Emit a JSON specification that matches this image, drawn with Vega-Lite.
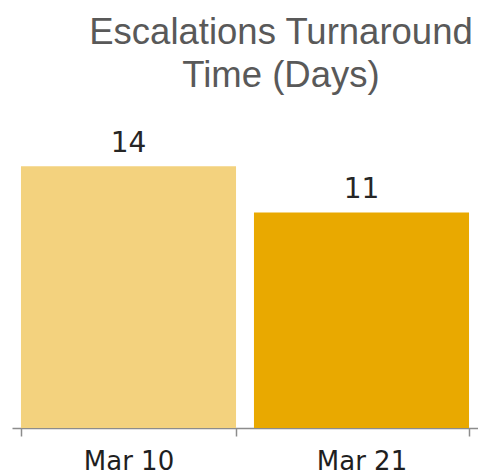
{
  "$schema": "https://vega.github.io/schema/vega-lite/v6.json",
  "width": 466,
  "height": 308,
  "autosize": {"type": "none"},
  "padding": {"left": 12, "top": 120, "right": 0, "bottom": 47},
  "background": "white",
  "title": {
    "text": ["Escalations Turnaround", "Time (Days)"],
    "font": "Liberation Sans",
    "fontSize": 36.5,
    "fontWeight": "normal",
    "color": "#595959",
    "lineHeight": 43,
    "anchor": "middle",
    "dx": 36,
    "offset": 26
  },
  "data": {
    "values": [
      {"date": "Mar 10", "days": 13.6, "shade": "light"},
      {"date": "Mar 21", "days": 11.2, "shade": "dark"}
    ]
  },
  "config": {"view": {"stroke": null}},
  "encoding": {
    "x": {
      "field": "date",
      "type": "nominal",
      "sort": null,
      "scale": {"paddingInner": 0.077, "paddingOuter": 0.0385},
      "axis": {
        "title": null,
        "labelAngle": 0,
        "labelFont": "DejaVu Sans",
        "labelFontSize": 26,
        "labelColor": "#1f1f1f",
        "labelPadding": 12,
        "domainColor": "#8c8c8c",
        "domainWidth": 1.5,
        "tickColor": "#8c8c8c",
        "tickWidth": 1.5,
        "tickSize": 8,
        "tickBand": "extent",
        "grid": false
      }
    },
    "y": {
      "field": "days",
      "type": "quantitative",
      "scale": {"domain": [0, 16], "nice": false},
      "axis": null
    }
  },
  "layer": [
    {
      "mark": {"type": "bar"},
      "encoding": {
        "color": {
          "field": "shade",
          "type": "nominal",
          "scale": {"domain": ["light", "dark"], "range": ["#F3D27E", "#E9A900"]},
          "legend": null
        }
      }
    },
    {
      "mark": {
        "type": "text",
        "baseline": "alphabetic",
        "dy": -14,
        "font": "DejaVu Sans",
        "fontSize": 28,
        "color": "#262626"
      },
      "encoding": {
        "text": {"field": "days", "type": "quantitative", "format": ".0f"}
      }
    }
  ]
}
